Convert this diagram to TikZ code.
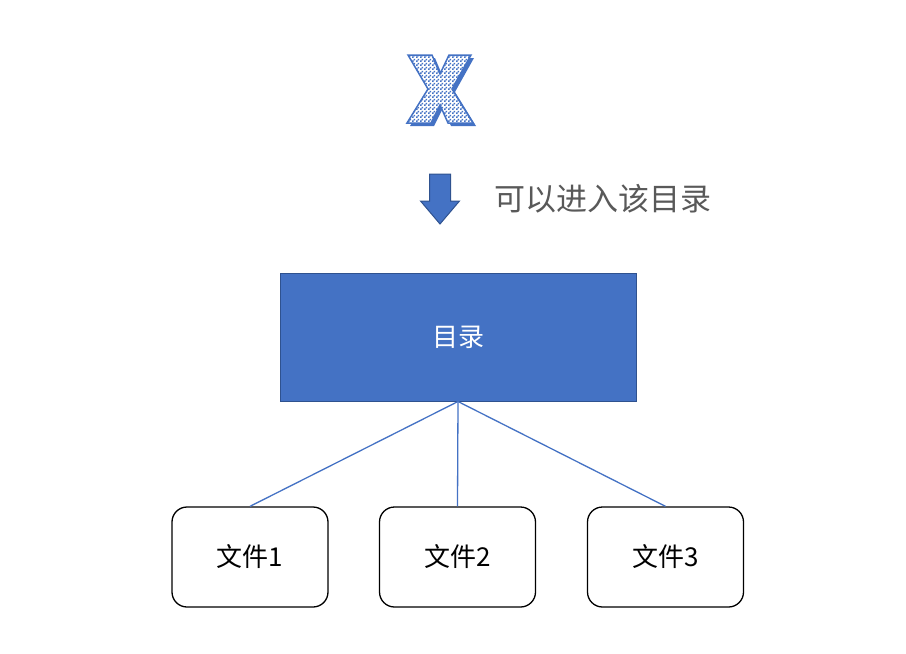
\documentclass[tikz,border=0pt]{standalone}
\usepackage{fontspec}
\newfontfamily\cjk{Noto Sans CJK SC}
\usetikzlibrary{patterns}
\pgfdeclarepatternformonly{finechecker}{\pgfpointorigin}{\pgfqpoint{4pt}{4pt}}{\pgfqpoint{4pt}{4pt}}{%
  \pgfpathrectangle{\pgfpointorigin}{\pgfqpoint{2pt}{2pt}}%
  \pgfpathrectangle{\pgfqpoint{2pt}{2pt}}{\pgfqpoint{2pt}{2pt}}%
  \pgfusepath{fill}}
\definecolor{accent}{HTML}{4472C4}
\definecolor{accentdark}{HTML}{2F528F}
\definecolor{greytext}{HTML}{595959}
\tikzset{
  mainbox/.style={draw=accentdark, line width=1pt, fill=accent, minimum width=356pt, minimum height=128pt, inner sep=0pt, text=white, font=\cjk\fontsize{26}{30}\selectfont},
  filebox/.style={draw=black, line width=1.3pt, fill=white, rounded corners=15pt, minimum width=156pt, minimum height=100pt, inner sep=0pt, font=\cjk\fontsize{26}{30}\selectfont},
  link/.style={draw=accent, line width=1.3pt},
  note/.style={text=greytext, font=\cjk\fontsize{31}{34}\selectfont, inner sep=0pt, anchor=west},
}
\begin{document}
\begin{tikzpicture}[x=1pt,y=-1pt]
\useasboundingbox (0,0) rectangle (906,654);
% X letter shadow
\fill[accent] (411,58) -- (435,58) -- (443,77) -- (452,58) -- (474,58) -- (455,92) -- (476,126) -- (451,126) -- (443,108) -- (434,126) -- (410,126) -- (431,92) -- cycle;
% X letter
\path[fill=white] (408,55) -- (432,55) -- (440,74) -- (449,55) -- (471,55) -- (452,89) -- (473,123) -- (448,123) -- (440,105) -- (431,123) -- (407,123) -- (428,89) -- cycle;
\path[pattern=finechecker, pattern color=accent, draw=accent, line width=1.5pt] (408,55) -- (432,55) -- (440,74) -- (449,55) -- (471,55) -- (452,89) -- (473,123) -- (448,123) -- (440,105) -- (431,123) -- (407,123) -- (428,89) -- cycle;
% down arrow
\draw[fill=accent, draw=accentdark, line width=1pt] (429.5,174) -- (450.5,174) -- (450.5,201) -- (459.5,201) -- (440,224) -- (420.5,201) -- (429.5,201) -- cycle;
\node[note] (lbl) at (494,199) {可以进入该目录};
% main box
\node[mainbox] (dir) at (458,337) {目录};
\node[filebox] (f1) at (250,557) {文件1};
\node[filebox] (f2) at (457.5,557) {文件2};
\node[filebox] (f3) at (665.5,557) {文件3};
\draw[link] (dir.south) -- (f1.north);
\draw[link] (dir.south) -- (f2.north);
\draw[link] (dir.south) -- (f3.north);
\end{tikzpicture}
\end{document}
